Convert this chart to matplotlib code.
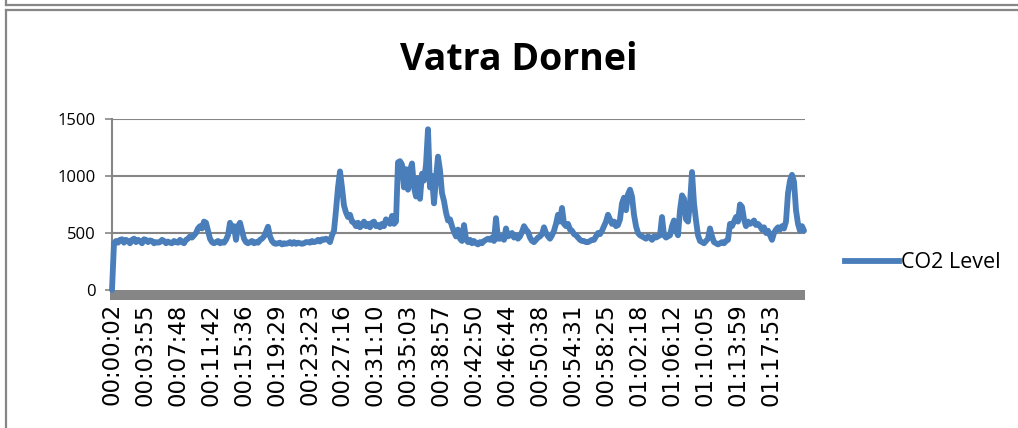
import matplotlib
matplotlib.use("Agg")
import matplotlib.pyplot as plt
from matplotlib.patches import Rectangle
from matplotlib.lines import Line2D

title = "Vatra Dornei"
series_name = "CO2 Level"

tick_labels = ["00:00:02", "00:03:55", "00:07:48", "00:11:42", "00:15:36", "00:19:29",
               "00:23:23", "00:27:16", "00:31:10", "00:35:03", "00:38:57", "00:42:50",
               "00:46:44", "00:50:38", "00:54:31", "00:58:25", "01:02:18", "01:06:12",
               "01:10:05", "01:13:59", "01:17:53"]

start_seconds = 2
sample_seconds = 14.18

co2 = [
    0, 410, 430, 415, 440, 445, 415, 440, 430, 410,
    440, 450, 420, 440, 430, 410, 445, 440, 420, 435,
    430, 410, 420, 415, 420, 440, 430, 410, 425, 415,
    410, 430, 420, 415, 440, 420, 410, 440, 450,
    470, 460, 480, 500, 540, 560, 540, 600, 590, 520,
    450, 420, 410, 420, 430, 410, 420, 415, 440, 480,
    590, 520, 560, 440, 560, 590, 520, 450, 420, 410,
    420, 430, 410, 420, 415, 440, 450, 470, 510, 555,
    470, 430, 410, 405, 410, 415, 400, 410, 405,
    410, 420, 405, 420, 405, 415, 410, 405, 410, 420,
    420, 415, 430, 420, 425, 440, 425, 445, 440, 450,
    440, 420, 480, 520,
    700, 900, 1040, 900, 740, 680, 640, 660, 600, 590,
    560, 590, 550, 570, 600, 560, 580, 550, 590, 600,
    560, 570, 550, 580, 560, 620, 600, 580, 650, 580,
    600,
    1120, 1130, 1100, 900, 1060, 880, 1050, 1110, 900, 820,
    980, 800, 1020, 960, 1100, 1410, 900, 1000, 760, 980,
    1170, 1050, 850, 780, 680, 610, 620, 560, 510, 470,
    530, 450,
    430, 570, 450, 420, 440, 410, 430, 410, 400, 420,
    410, 430, 440, 450, 440, 460, 430, 630, 450, 450,
    470, 440, 540, 470, 480, 500, 460, 480, 450, 470,
    510, 560, 530, 510, 460, 430, 420, 440, 460, 470,
    490, 550, 500, 470, 450, 480, 520, 580,
    660, 600, 720, 580, 560, 580, 530, 520, 490, 480,
    460, 440, 430, 430, 420, 420, 430, 440, 440, 470,
    500, 490, 520, 560, 600, 660, 620, 580, 600, 560,
    570, 620, 760, 810, 700, 840, 880, 820, 660, 560,
    500,
    480, 470, 460, 450, 470, 460, 440, 470, 460, 470,
    480, 640, 480, 460, 470, 480, 560, 610, 520, 480,
    700, 830, 800, 620, 600, 760, 1035, 760, 610, 480,
    430, 420, 410, 430, 450, 540, 470, 420, 410, 400,
    410, 420, 410, 430, 440,
    580, 560, 600, 640, 600, 750, 730, 620, 560, 600,
    580, 590, 610, 570, 580, 560, 530, 550, 500, 520,
    480, 440, 500, 530, 550, 530, 560, 540, 600, 850,
    960, 1010, 950, 700, 580, 520, 560, 520,
]

y_ticks = [0, 500, 1000, 1500]

def to_seconds(s):
    h, m, sec = s.split(":")
    return int(h) * 3600 + int(m) * 60 + int(sec)

times = [start_seconds + sample_seconds * i for i in range(len(co2))]
tick_pos = [to_seconds(s) for s in tick_labels]

W, H = 1018, 428
fig = plt.figure(figsize=(W / 100, H / 100), dpi=100)
fig.patch.set_facecolor("white")

gray = "#868686"
blue = "#4A7EBB"

# outer frames (neighbouring chart and this chart)
fig.add_artist(Line2D([5.5 / W, 1.0], [1 - 4.5 / H, 1 - 4.5 / H], color=gray, lw=1.6, transform=fig.transFigure))
fig.add_artist(Line2D([5.5 / W, 5.5 / W], [1.0, 1 - 4.5 / H], color=gray, lw=1.6, transform=fig.transFigure))
fig.add_artist(Line2D([5.5 / W, 1.0], [1 - 10 / H, 1 - 10 / H], color=gray, lw=1.6, transform=fig.transFigure))
fig.add_artist(Line2D([5.5 / W, 5.5 / W], [0, 1 - 10 / H], color=gray, lw=1.6, transform=fig.transFigure))

left, right, top, bottom = 112, 805, 119, 290
ax = fig.add_axes([left / W, 1 - bottom / H, (right - left) / W, (bottom - top) / H])
ax.set_xlim(start_seconds, start_seconds + (right - left) * 7.09)
ax.set_ylim(0, 1500)

for v in y_ticks[1:]:
    ax.axhline(v, color=gray, lw=1.5, zorder=1)

ax.plot(times, co2, color=blue, lw=4.2, solid_joinstyle="round", solid_capstyle="round", zorder=3, clip_on=False)

for s in ["top", "right", "bottom"]:
    ax.spines[s].set_visible(False)
ax.spines["left"].set_color(gray)
ax.spines["left"].set_linewidth(1.5)

# thick gray category axis
ax.add_patch(Rectangle((-2 / (right - left), -10 / (bottom - top)), (right - left + 2) / (right - left), 10 / (bottom - top),
                       transform=ax.transAxes, facecolor=gray, edgecolor="none", clip_on=False, zorder=2))

ax.set_yticks(y_ticks)
ax.set_yticklabels([str(v) for v in y_ticks], fontsize=12, family="Open Sans")
ax.tick_params(axis="y", length=5, width=1.2, color=gray, pad=7)

ax.set_xticks(tick_pos)
ax.set_xticklabels(tick_labels, rotation=90, fontsize=16.5, family="DejaVu Sans", va="top")
ax.tick_params(axis="x", length=0, pad=9.5)

fig.text(519 / W, 1 - 60 / H, title, ha="center", va="center", fontsize=27, fontweight="bold", family="Open Sans")

leg = ax.legend([Line2D([], [], color=blue, lw=4.2)], [series_name], loc="center left",
                bbox_to_anchor=(826 / W, 1 - 263 / H), bbox_transform=fig.transFigure,
                frameon=False, handlelength=2.5, handletextpad=0.1,
                prop={"family": "Open Sans", "size": 15.5})

fig.savefig("out.png", dpi=100)
